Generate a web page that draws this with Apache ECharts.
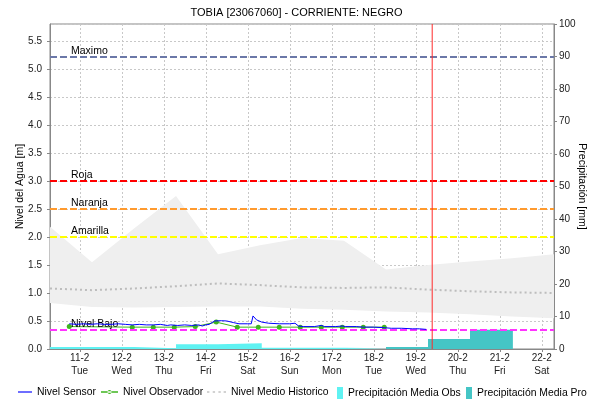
<!DOCTYPE html>
<html>
<head>
<meta charset="utf-8">
<script src="https://cdn.jsdelivr.net/npm/echarts@6/dist/echarts.min.js"></script>
<style>
html,body{margin:0;padding:0;background:#fff;}
#chart{width:593px;height:403px;}
</style>
</head>
<body>
<div id="chart"></div>
<script>
// ---- data (day of Feb, hour, value) ----
const dayLabels = ['11-2','12-2','13-2','14-2','15-2','16-2','17-2','18-2','19-2','20-2','21-2','22-2'];
const weekDays  = ['Tue','Wed','Thu','Fri','Sat','Sun','Mon','Tue','Wed','Thu','Fri','Sat'];
const leftTicks = [0,0.5,1,1.5,2,2.5,3,3.5,4,4.5,5,5.5];

const nivelSensor = [
  [10,18,0.45],[10,22,0.44],[11,2,0.45],[11,6,0.44],[11,10,0.45],[11,14,0.44],[11,18,0.44],[11,22,0.45],
  [12,2,0.44],[12,6,0.43],[12,10,0.44],[12,14,0.43],[12,18,0.43],[12,22,0.44],[13,2,0.42],[13,4,0.43],
  [13,8,0.42],[13,12,0.43],[13,16,0.42],[13,20,0.43],[13,22,0.41],[14,0,0.43],[14,2,0.44],[14,5,0.50],
  [14,9,0.505],[14,12,0.50],[14,16,0.47],[14,19,0.45],[15,0,0.45],[15,2,0.45],[15,3,0.59],[15,5,0.52],
  [15,8,0.48],[15,12,0.46],[15,18,0.45],[16,0,0.45],[16,3,0.46],[16,5,0.41],[16,8,0.40],[16,14,0.40],
  [16,18,0.42],[16,20,0.40],[17,2,0.40],[17,6,0.41],[17,8,0.40],[17,14,0.40],[17,18,0.39],[18,0,0.39],
  [18,6,0.38],[18,10,0.37],[18,16,0.37],[18,22,0.36],[19,2,0.36],[19,6,0.35]
];
const nivelObservador = [
  [10,18,0.40],[12,6,0.39],[12,18,0.39],[13,6,0.39],[13,18,0.40],[14,6,0.48],[14,18,0.39],
  [15,6,0.39],[15,18,0.39],[16,6,0.39],[16,18,0.39],[17,6,0.39],[17,18,0.39],[18,6,0.39]
];
// historical band, daily at 07:00 from 10-2 to 22-2
const histDays  = [10,11,12,13,14,15,16,17,18,19,20,21,22];
const histUpper = [2.18,1.55,2.15,2.73,1.69,1.85,1.98,1.93,1.42,1.50,1.56,1.62,1.69];
const histLower = [0.82,0.75,0.74,0.75,0.76,0.76,0.72,0.70,0.67,0.65,0.62,0.58,0.55];
const histMean  = [1.08,1.05,1.08,1.12,1.17,1.14,1.10,1.09,1.10,1.06,1.03,1.01,1.00];
// precipitation (mm), step periods starting at [day, hour]
const precipObs = [[10,7,0.6],[12,7,0.2],[13,7,1.5],[14,7,1.8],[15,8,0.4],[17,7,0.2],[18,7,0]];
const precipPro = [[18,7,0.6],[19,7,3.1],[20,7,5.9],[21,7.5,0]];
// thresholds (m)
const umbrales = [
  {name:'Maximo',  value:5.22,  color:'#6b78a8'},
  {name:'Roja',    value:3.0,   color:'#ff0000'},
  {name:'Naranja', value:2.5,   color:'#ff9a2e'},
  {name:'Amarilla',value:2.0,   color:'#ffff00'},
  {name:'Nivel Bajo', value:0.345, color:'#ff33ff'}
];
const ahora = [19,9.4];

// ---- helpers ----
const T = (d,h) => (d-11)*24 + h;
const pts = arr => arr.map(p => [T(p[0],p[1]), p[2]]);
const histX = histDays.map(d => T(d,7));

const chart = echarts.init(document.getElementById('chart'), null, {renderer:'canvas'});
const FONT = 'Liberation Sans, Arial, sans-serif';
const dayValues = dayLabels.map((_,i)=>i*24);

const lineIcon = 'path://M0,0h16v1.3h-16z';
const obsIcon  = 'path://M0,2.35h17v1.3h-17z M8.5,1a2,2 0 1,0 0.01,0z';
const dotIcon  = 'path://M0,0h2.5v1.5h-2.5z M6,0h2.5v1.5h-2.5z M12,0h2.5v1.5h-2.5z M17.5,0h2.5v1.5h-2.5z';
const rectIcon = 'path://M0,0h6v12h-6z';

const legendBase = (left, w, h, name, icon, color) => ({
  top: 387, left: left, itemWidth: w, itemHeight: h, itemGap: 0, padding: 0,
  textStyle:{fontSize:10.4, color:'#000', fontFamily:FONT},
  data:[{name:name, icon:icon, itemStyle:{color:color}}]
});

const option = {
  animation:false,
  textStyle:{fontFamily:FONT},
  title:{
    text:'TOBIA [23067060] - CORRIENTE: NEGRO',
    left:'center', top:2,
    textStyle:{fontSize:11, fontWeight:'normal', color:'#000', fontFamily:FONT}
  },
  grid:{left:50, right:39, top:24, bottom:54, show:true, borderColor:'#888', borderWidth:1,
        outerBoundsMode:'none', containLabel:false},
  legend:[
    legendBase(18, 14, 10, 'Nivel Sensor', lineIcon, '#0000ff'),
    legendBase(101, 17, 10, 'Nivel Observador', obsIcon, '#3fb51f'),
    legendBase(207, 19, 10, 'Nivel Medio Historico', dotIcon, '#c4c4c4'),
    legendBase(337, 6, 12, 'Precipitación Media Obs', rectIcon, '#5ff2f2'),
    legendBase(466, 6, 12, 'Precipitación Media Pro', rectIcon, '#45c5c5')
  ],
  xAxis:{
    type:'value', min:-17, max:271,
    axisLine:{show:true, onZero:false, lineStyle:{color:'#888'}},
    axisTick:{show:true, customValues:dayValues, length:3, lineStyle:{color:'#888'}},
    axisLabel:{
      customValues:dayValues, fontSize:10, color:'#222', lineHeight:13, margin:3,
      formatter:v => { const i = Math.round(v/24); return dayLabels[i] + '\n' + weekDays[i]; }
    },
    splitLine:{show:true, lineStyle:{color:'#c8c8c8', type:[2,2]}}
  },
  yAxis:[
    {
      type:'value', min:0, max:5.8, interval:0.5,
      name:'Nivel del Agua [m]', nameLocation:'middle', nameGap:24, nameMoveOverlap:false,
      nameTextStyle:{fontSize:10.5, color:'#000', fontFamily:FONT},
      axisLine:{show:true, onZero:false, lineStyle:{color:'#888'}},
      axisTick:{show:true, length:3, lineStyle:{color:'#888'}},
      axisLabel:{fontSize:10, color:'#222', showMaxLabel:false,
        formatter:v => leftTicks.indexOf(v) >= 0 ? v.toFixed(1) : ''},
      splitLine:{show:true, lineStyle:{color:'#c8c8c8', type:[2,2]}}
    },
    {
      type:'value', min:0, max:100, interval:10, position:'right',
      name:'Precipitación [mm]', nameLocation:'middle', nameGap:22, nameRotate:-90, nameMoveOverlap:false,
      nameTextStyle:{fontSize:10.5, color:'#000', fontFamily:FONT},
      axisLine:{show:true, onZero:false, lineStyle:{color:'#888'}},
      axisTick:{show:true, length:3, lineStyle:{color:'#888'}},
      axisLabel:{fontSize:10, color:'#222', margin:5},
      splitLine:{show:false}
    }
  ],
  series:[
    {
      name:'histBand', type:'custom', silent:true, z:1,
      data:[[histX[0], histUpper[0]]],
      renderItem:(params, api) => {
        const up = histX.map((x,i)=>api.coord([x, histUpper[i]]));
        const lo = histX.map((x,i)=>api.coord([x, histLower[i]])).reverse();
        return {
          type:'polygon',
          shape:{points: up.concat(lo)},
          style:{fill:'#efefef', stroke:null},
          clipPath:{type:'rect', shape:{x:params.coordSys.x, y:params.coordSys.y,
                     width:params.coordSys.width, height:params.coordSys.height}}
        };
      }
    },
    {
      name:'Precipitación Media Obs', type:'line', yAxisIndex:1, step:'end', symbol:'none',
      data: pts(precipObs), color:'#5ff2f2',
      lineStyle:{width:0}, areaStyle:{color:'#5ff2f2', opacity:1}, z:2
    },
    {
      name:'Precipitación Media Pro', type:'line', yAxisIndex:1, step:'end', symbol:'none',
      data: pts(precipPro), color:'#45c5c5',
      lineStyle:{width:0}, areaStyle:{color:'#45c5c5', opacity:1}, z:2
    },
    {
      name:'Nivel Medio Historico', type:'line', symbol:'none',
      data: histX.map((x,i)=>[x, histMean[i]]), color:'#bdbdbd',
      lineStyle:{color:'#bdbdbd', width:2, type:[2,3]}, z:3
    },
    {
      name:'Nivel Observador', type:'line', symbol:'circle', symbolSize:5,
      data: pts(nivelObservador), color:'#3fb51f',
      lineStyle:{color:'#3fb51f', width:1}, itemStyle:{color:'#3fb51f'}, z:4
    },
    {
      name:'Nivel Sensor', type:'line', symbol:'none',
      data: pts(nivelSensor), color:'#0000ff',
      lineStyle:{color:'#0000ff', width:1}, z:5,
      markLine:{
        symbol:'none', silent:true, animation:false,
        data: umbrales.map(u => ({
          yAxis:u.value, name:u.name,
          lineStyle:{color:u.color, width:2, type:[7,3]},
          label:{show:true, position:'insideStartTop', formatter:u.name, color:'#000',
                 fontSize:10.5, fontFamily:FONT, distance:[21,0]}
        }))
      }
    },
    {
      name:'ahora', type:'line', symbol:'none', silent:true, z:8,
      data:[[T(ahora[0],ahora[1]), 0],[T(ahora[0],ahora[1]), 5.8]],
      color:'#ff2a2a', lineStyle:{color:'#ff2a2a', width:1}
    }
  ]
};
chart.setOption(option);
</script>
</body>
</html>
